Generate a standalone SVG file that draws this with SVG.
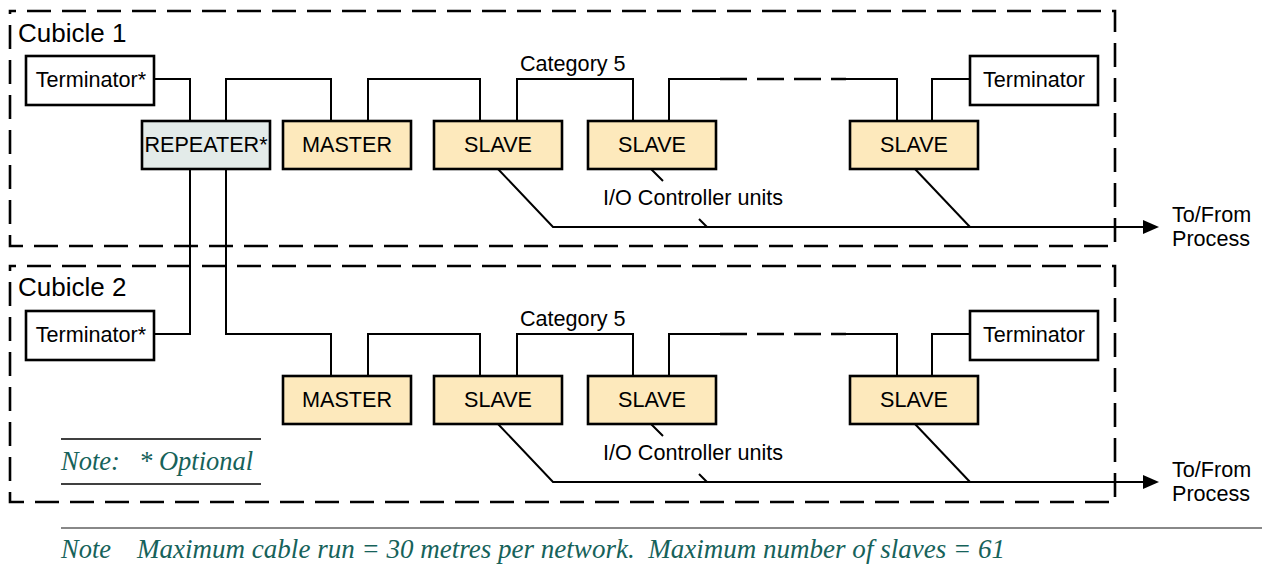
<svg xmlns="http://www.w3.org/2000/svg" width="1269" height="568" viewBox="0 0 1269 568">
<defs>
<style>
.cub{fill:none;stroke:#000;stroke-width:2.6;stroke-dasharray:24 11;stroke-dashoffset:18}
.box{stroke:#000;stroke-width:2.6}
.term{fill:#fff}
.rep{fill:#e3ebe9}
.unit{fill:#fde9bc}
.lbl{font-family:"Liberation Sans",Arial,sans-serif;font-size:21.6px;fill:#000}
.big{font-family:"Liberation Sans",Arial,sans-serif;font-size:26px;fill:#000}
.mid{text-anchor:middle}
.wire{fill:none;stroke:#000;stroke-width:2}
.dash{fill:none;stroke:#000;stroke-width:2.5;stroke-dasharray:27 10}
.note{font-family:"Liberation Serif","Times New Roman",serif;font-style:italic;font-size:26.5px;fill:#16625a}
</style>
<marker id="arr" viewBox="0 0 16 14" refX="0" refY="7" markerWidth="16" markerHeight="14" markerUnits="userSpaceOnUse" orient="auto">
<path d="M0,0 L16,7 L0,14 Z" fill="#000"/>
</marker>
</defs>
<rect width="1269" height="568" fill="#fff"/>

<g id="cubicle1">
<rect class="cub" x="10" y="11" width="1105" height="235"/>
<text class="big" x="18" y="42">Cubicle 1</text>
</g>
<g id="cubicle2">
<rect class="cub" x="10" y="266" width="1105" height="236"/>
<text class="big" x="18" y="296">Cubicle 2</text>
</g>

<g id="connectors">
<path class="wire" d="M154,79 H190 V121"/>
<path class="wire" d="M226,121 V79 H331 V121"/>
<path class="wire" d="M368,121 V79 H480 V121"/>
<path class="wire" d="M517,121 V79 H633 V121"/>
<path class="wire" d="M669,121 V79 H720"/>
<path class="dash" d="M720,79 H846"/>
<path class="wire" d="M846,79 H897 V121"/>
<path class="wire" d="M932,121 V79 H970"/>
<path class="wire" d="M190,169 V334 H154"/>
<path class="wire" d="M226,169 V334 H331 V376"/>
<path class="wire" d="M368,376 V334 H480 V376"/>
<path class="wire" d="M517,376 V334 H633 V376"/>
<path class="wire" d="M669,376 V334 H720"/>
<path class="dash" d="M720,334 H846"/>
<path class="wire" d="M846,334 H897 V376"/>
<path class="wire" d="M932,376 V334 H970"/>
<path class="wire" d="M498,169 L553,227 H1143" marker-end="url(#arr)"/>
<path class="wire" d="M651,169 L663,181 M699,219 L707,227"/>
<path class="wire" d="M915,169 L970,227"/>
<path class="wire" d="M498,424 L553,482 H1143" marker-end="url(#arr)"/>
<path class="wire" d="M651,424 L663,436 M699,474 L707,482"/>
<path class="wire" d="M915,424 L970,482"/>
</g>

<g id="labels">
<text class="lbl" x="520" y="71">Category 5</text>
<text class="lbl" x="603" y="205">I/O Controller units</text>
<text class="lbl" x="1172" y="222">To/From</text>
<text class="lbl" x="1172" y="246">Process</text>
<text class="lbl" x="520" y="326">Category 5</text>
<text class="lbl" x="603" y="460">I/O Controller units</text>
<text class="lbl" x="1172" y="477">To/From</text>
<text class="lbl" x="1172" y="501">Process</text>
</g>

<g id="terminator1a"><rect class="box term" x="26" y="56" width="128" height="49"/><text class="lbl mid" x="91" y="87">Terminator*</text></g>
<g id="repeater"><rect class="box rep" x="142" y="121" width="128" height="48"/><text class="lbl mid" x="206" y="152">REPEATER*</text></g>
<g id="master1"><rect class="box unit" x="283" y="121" width="128" height="48"/><text class="lbl mid" x="347" y="152">MASTER</text></g>
<g id="slave1a"><rect class="box unit" x="434" y="121" width="128" height="48"/><text class="lbl mid" x="498" y="152">SLAVE</text></g>
<g id="slave1b"><rect class="box unit" x="588" y="121" width="128" height="48"/><text class="lbl mid" x="652" y="152">SLAVE</text></g>
<g id="slave1c"><rect class="box unit" x="850" y="121" width="128" height="48"/><text class="lbl mid" x="914" y="152">SLAVE</text></g>
<g id="terminator1b"><rect class="box term" x="970" y="56" width="128" height="49"/><text class="lbl mid" x="1034" y="87">Terminator</text></g>

<g id="terminator2a"><rect class="box term" x="26" y="311" width="128" height="49"/><text class="lbl mid" x="91" y="342">Terminator*</text></g>
<g id="master2"><rect class="box unit" x="283" y="376" width="128" height="48"/><text class="lbl mid" x="347" y="407">MASTER</text></g>
<g id="slave2a"><rect class="box unit" x="434" y="376" width="128" height="48"/><text class="lbl mid" x="498" y="407">SLAVE</text></g>
<g id="slave2b"><rect class="box unit" x="588" y="376" width="128" height="48"/><text class="lbl mid" x="652" y="407">SLAVE</text></g>
<g id="slave2c"><rect class="box unit" x="850" y="376" width="128" height="48"/><text class="lbl mid" x="914" y="407">SLAVE</text></g>
<g id="terminator2b"><rect class="box term" x="970" y="311" width="128" height="49"/><text class="lbl mid" x="1034" y="342">Terminator</text></g>

<g id="note-optional">
<line x1="61" y1="439" x2="261" y2="439" stroke="#000" stroke-width="1.3"/>
<line x1="61" y1="484" x2="261" y2="484" stroke="#000" stroke-width="1.3"/>
<text class="note" x="61" y="470">Note:</text>
<text class="note" x="139" y="470">* Optional</text>
</g>

<g id="note-bottom">
<line x1="61" y1="528" x2="1262" y2="528" stroke="#888" stroke-width="2"/>
<text class="note" x="61" y="558">Note</text>
<text class="note" x="137" y="558" xml:space="preserve" textLength="868" lengthAdjust="spacingAndGlyphs">Maximum cable run = 30 metres per network.  Maximum number of slaves = 61</text>
</g>
</svg>
